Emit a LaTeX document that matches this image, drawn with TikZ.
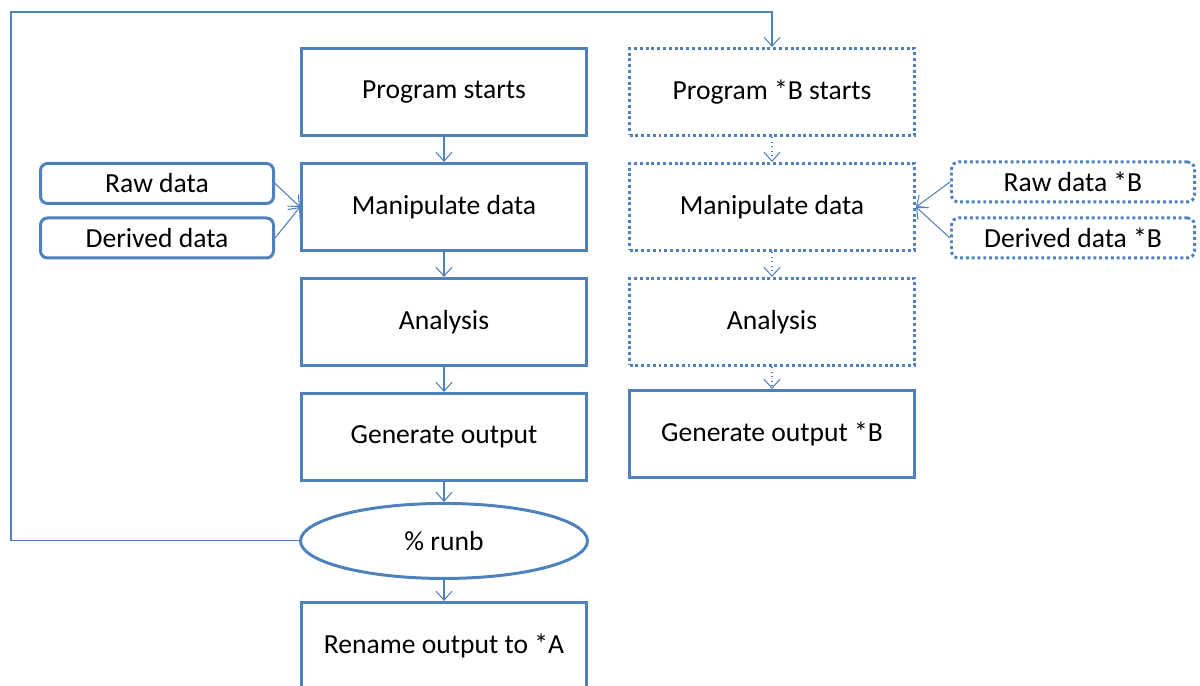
\documentclass[tikz,border=0pt]{standalone}
\usepackage{fontspec}
\setmainfont{Carlito}
\usepackage{xcolor}
\usetikzlibrary{arrows.meta,positioning,shapes.geometric}
\definecolor{boxblue}{RGB}{79,129,189}

\begin{document}
\begin{tikzpicture}[
  node distance=0.5cm,
  box/.style={draw=boxblue, line width=1.7pt, fill=white, minimum width=5.7cm, minimum height=1.74cm, align=center, font=\fontsize{15.7}{18}\selectfont},
  dotbox/.style={box, dash pattern=on 1.7pt off 1.6pt},
  databox/.style={draw=boxblue, line width=1.7pt, rounded corners=4pt, minimum width=4.66cm, minimum height=0.8cm, font=\fontsize{15.7}{18}\selectfont},
  dotdata/.style={databox, minimum width=4.86cm, dash pattern=on 1.7pt off 1.6pt},
  runbox/.style={ellipse, draw=boxblue, line width=1.7pt, minimum width=5.74cm, minimum height=1.5cm, font=\fontsize{15.7}{18}\selectfont},
  arrow/.style={-{Straight Barb[length=1.8mm,width=3.2mm]}, draw=boxblue, line width=0.6pt},
  dotarrow/.style={arrow, dotted}
]
\useasboundingbox (0,0) rectangle (24,-13.72);

% run A
\node[box] (prog) at (8.88,-1.84) {Program starts};
\node[box, below=of prog] (manip) {Manipulate data};
\node[box, below=of manip] (anal) {Analysis};
\node[box, below=of anal] (gen) {Generate output};
\node[runbox, below=0.4cm of gen] (runb) {\% runb};
\node[box, below=0.42cm of runb] (rename) {Rename output to *A};

\node[databox, left=of manip, yshift=0.47cm] (raw) {Raw data};
\node[databox, left=of manip, yshift=-0.62cm] (derived) {Derived data};

% run B
\node[dotbox] (progB) at (15.44,-1.84) {Program *B starts};
\node[dotbox, below=of progB] (manipB) {Manipulate data};
\node[dotbox, below=of manipB] (analB) {Analysis};
\node[box, below=0.44cm of analB] (genB) {Generate output *B};

\node[dotdata, right=0.68cm of manipB, yshift=0.5cm] (rawB) {Raw data *B};
\node[dotdata, right=0.68cm of manipB, yshift=-0.62cm] (derivedB) {Derived data *B};

\draw[arrow] (prog) -- (manip);
\draw[arrow] (manip) -- (anal);
\draw[arrow] (anal) -- (gen);
\draw[arrow] (gen) -- (runb);
\draw[arrow] (runb) -- (rename);
\draw[arrow] (raw.east) -- (manip.west);
\draw[arrow] (derived.east) -- (manip.west);

\draw[dotarrow] (progB) -- (manipB);
\draw[dotarrow] (manipB) -- (analB);
\draw[dotarrow] (analB) -- (genB);
\draw[arrow] (rawB.west) -- (manipB.east);
\draw[arrow] (derivedB.west) -- (manipB.east);

% loop back to run B
\path (runb.west) ++(-5.76,0) coordinate (loopsw);
\draw[arrow] (runb.west) -- (loopsw) |- ([yshift=0.7cm]progB.north) -- (progB.north);
\end{tikzpicture}
\end{document}
